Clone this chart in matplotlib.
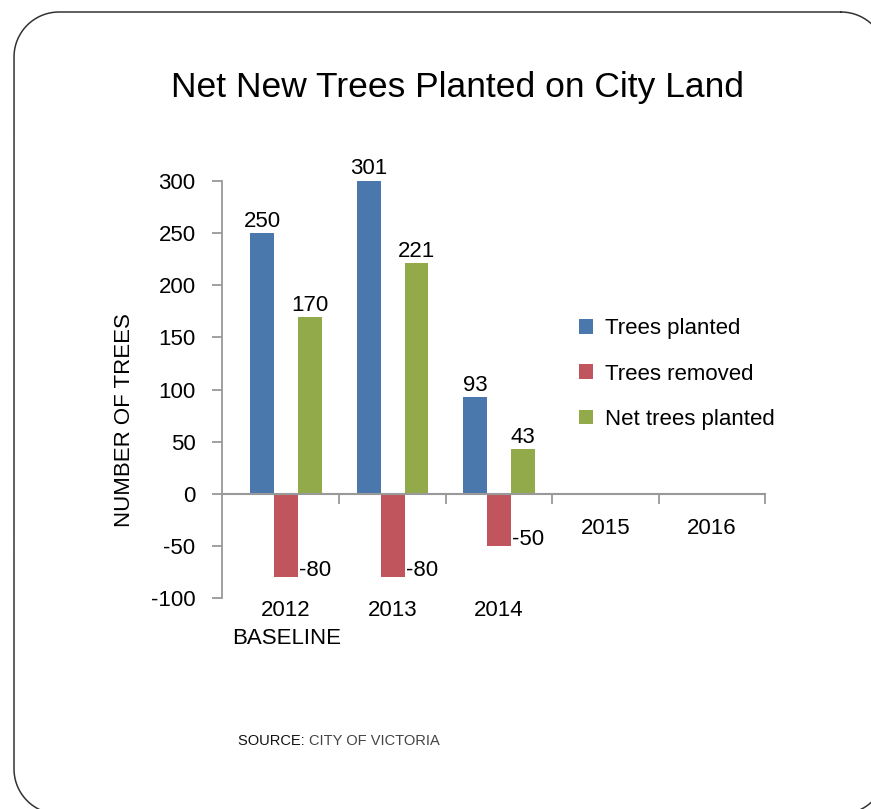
import numpy as np
import matplotlib
matplotlib.use("Agg")
import matplotlib.pyplot as plt
from matplotlib.patches import Patch
from matplotlib.lines import Line2D
from matplotlib.transforms import IdentityTransform, offset_copy

plt.rcParams['font.family'] = ['Liberation Sans', 'DejaVu Sans']

# data
years = ["2012\nBASELINE", "2013", "2014", "2015", "2016"]
planted = [250, 301, 93]
removed = [-80, -80, -50]
net = [170, 221, 43]
series_names = ["Trees planted", "Trees removed", "Net trees planted"]
colors = ["#4a78ad", "#c0555e", "#93aa4b"]
yticks = [-100, -50, 0, 50, 100, 150, 200, 250, 300]

W, H = 871, 809
fig = plt.figure(figsize=(W / 100, H / 100), dpi=100)

def fx(px):
    return px / W

def fy(py):
    return 1 - py / H

# rounded frame round the slide (pixel coords, y down)
left, top, right, bottom, r = 14, 12, 886, 814, 45
xs, ys = [], []
for cx, cy, a0 in [(right - r, top + r, -90), (right - r, bottom - r, 0),
                   (left + r, bottom - r, 90), (left + r, top + r, 180)]:
    a = np.radians(np.linspace(a0, a0 + 90, 40))
    xs.extend(cx + r * np.cos(a))
    ys.extend(cy + r * np.sin(a))
xs.append(xs[0])
ys.append(ys[0])
frame = Line2D(xs, [H - v for v in ys], transform=IdentityTransform(),
               color="#333333", linewidth=1.1)
fig.lines.append(frame)

ax = fig.add_axes([fx(222), fy(598), fx(765) - fx(222), fy(181) - fy(598)])

bw = 0.225
x = np.arange(len(planted))
ax.bar(x - bw, planted, bw, color=colors[0], label=series_names[0])
ax.bar(x, removed, bw, color=colors[1], label=series_names[1])
ax.bar(x + bw, net, bw, color=colors[2], label=series_names[2])

ax.set_xlim(-0.603, 4.5)
ax.set_ylim(-100, 300)

gray = "#999999"
for s in ["top", "right"]:
    ax.spines[s].set_visible(False)
ax.spines["left"].set_color(gray)
ax.spines["left"].set_linewidth(1.3)
ax.spines["bottom"].set_color(gray)
ax.spines["bottom"].set_linewidth(1.5)
ax.spines["bottom"].set_position(("data", 0))
ax.spines["bottom"].set_bounds(-0.603, 4.5)

ax.set_yticks(yticks)
ax.set_yticklabels([str(v) for v in yticks])
ax.tick_params(axis="y", length=7, width=1.3, color=gray, pad=12, labelsize=16)
ax.set_xticks(np.arange(0.5, 5, 1))
ax.set_xticklabels([])
ax.tick_params(axis="x", length=7, width=1.3, color=gray, direction="out")

# category labels
for i, lab in enumerate(years):
    if i < 3:
        ax.text(i, -100, lab, ha="center", va="top", fontsize=16, linespacing=1.45,
                transform=offset_copy(ax.transData, fig=fig, y=-2, units="dots"))
    else:
        ax.text(i, 0, lab, ha="center", va="top", fontsize=16,
                transform=offset_copy(ax.transData, fig=fig, y=-24, units="dots"))

# value labels
for i in range(len(planted)):
    ax.text(x[i] - bw, planted[i], str(planted[i]), ha="center", va="bottom", fontsize=16,
            transform=offset_copy(ax.transData, fig=fig, y=1, units="dots"))
    ax.text(x[i] + bw, net[i], str(net[i]), ha="center", va="bottom", fontsize=16,
            transform=offset_copy(ax.transData, fig=fig, y=1, units="dots"))
    ax.text(x[i] + bw / 2, removed[i], str(removed[i]), ha="left", va="baseline", fontsize=16,
            transform=offset_copy(ax.transData, fig=fig, x=1, y=1, units="dots"))

fig.text(fx(457), fy(97), "Net New Trees Planted on City Land", ha="center",
         va="baseline", fontsize=25.5)
fig.text(fx(125), fy(420), "NUMBER OF TREES", rotation=90, ha="center",
         va="center", fontsize=16)

handles = [Patch(facecolor=c, edgecolor="none") for c in colors]
fig.legend(handles, series_names, loc="center left",
           bbox_to_anchor=(fx(579), fy(374)), frameon=False, fontsize=16,
           handlelength=0.63, handleheight=0.63, handletextpad=0.55,
           labelspacing=1.1, borderpad=0, borderaxespad=0)

t = fig.text(fx(238), fy(745), "SOURCE: ", fontsize=10.5, color="#111111", va="baseline")
fig.canvas.draw()
bb = t.get_window_extent()
fig.text(bb.x1 / W, fy(745), "CITY OF VICTORIA", fontsize=10.5, color="#444444",
         va="baseline")

fig.savefig("out.png", dpi=100, facecolor="white")
